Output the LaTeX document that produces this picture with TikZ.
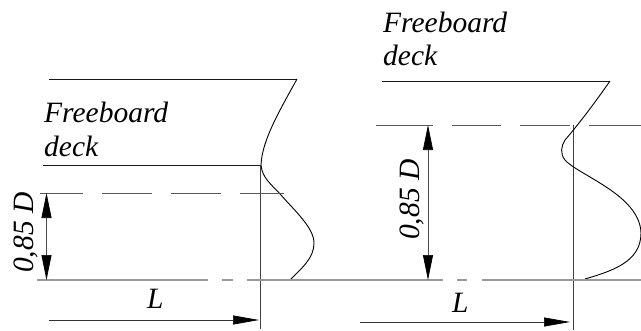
\documentclass[tikz,border=0pt]{standalone}
\usepackage{fontspec}
\setmainfont{Liberation Serif}
\usetikzlibrary{arrows.meta}
\tikzset{x=1pt,y=-1pt,
 deckline/.style={draw=black!90,line width=1pt},
 hull/.style={draw=black,line width=.9pt},
 thin line/.style={draw=black!75,line width=.7pt},
 waterline/.style={draw=black!40,line width=1.6pt},
 dashline/.style={draw=black!65,line width=.8pt},
 dim/.style={draw=black!70,line width=.7pt,{Triangle[length=25pt,width=10pt,black]}-{Triangle[length=25pt,width=10pt,black]}},
 dimone/.style={draw=black!80,line width=.7pt,-{Triangle[length=26pt,width=9pt,black]}},
 label/.style={font=\itshape\fontsize{29.5}{29.5}\selectfont,inner sep=0pt,anchor=base west},
}
\begin{document}
\begin{tikzpicture}
        \useasboundingbox (0,0) rectangle (641,330);
        % left section
        \draw[deckline] (49, 79) -- (297, 79);
        \draw[deckline] (43, 165) -- (261, 165);
        \draw[thin line] (260, 165) -- (260, 329);
        \draw[hull] (297, 79) .. controls (280, 110) and (262, 140) .. (261, 165)
            .. controls (262, 178) and (272, 185) .. (281, 195)
            .. controls (295, 211) and (314, 228) .. (314, 243)
            .. controls (314, 258) and (302, 268) .. (290, 280);
        \draw[dashline] (40, 193) -- (83, 193);
        \draw[dashline] (102, 193) -- (152, 193);
        \draw[dashline] (171, 193) -- (221, 193);
        \draw[dashline] (240, 193) -- (284, 193);
        \draw[waterline] (37, 280) -- (208, 280);
        \draw[waterline] (222, 280) -- (233, 280);
        \draw[waterline] (247, 280) -- (443, 280);
        \draw[dim] (46.5, 193) -- (46.5, 280);
        \draw[dimone] (49, 320) -- (259, 320);
        \node[label] (deckleft) at (44, 122) {Freeboard};
        \node[label] (deckleftb) at (44, 156) {deck};
        \node[label,rotate=90] (depthleft) at (34, 273) {0,85 D};
        \node[label] (lengthleft) at (147, 308) {L};
        % right section
        \draw[deckline] (382, 81) -- (610, 81);
        \draw[thin line] (573, 125) -- (573, 330);
        \draw[hull] (610, 81) .. controls (594, 104) and (578, 125) .. (565, 140)
            .. controls (561, 146) and (560, 154) .. (565, 160)
            .. controls (578, 175) and (640, 195) .. (641, 233)
            .. controls (641, 262) and (612, 271) .. (585, 279);
        \draw[dashline] (376, 125) -- (433, 125);
        \draw[dashline] (452, 125) -- (501, 125);
        \draw[dashline] (520, 125) -- (570, 125);
        \draw[dashline] (589, 125) -- (641, 125);
        \draw[waterline] (457, 280) -- (467, 280);
        \draw[waterline] (482, 280) -- (641, 280);
        \draw[dim] (428, 125) -- (428, 280);
        \draw[dimone] (360, 322) -- (570, 322);
        \node[label] (deckright) at (383, 32) {Freeboard};
        \node[label] (deckrightb) at (383, 65) {deck};
        \node[label,rotate=90] (depthright) at (419, 240) {0,85 D};
        \node[label] (lengthright) at (452, 312) {L};
\end{tikzpicture}
\end{document}
